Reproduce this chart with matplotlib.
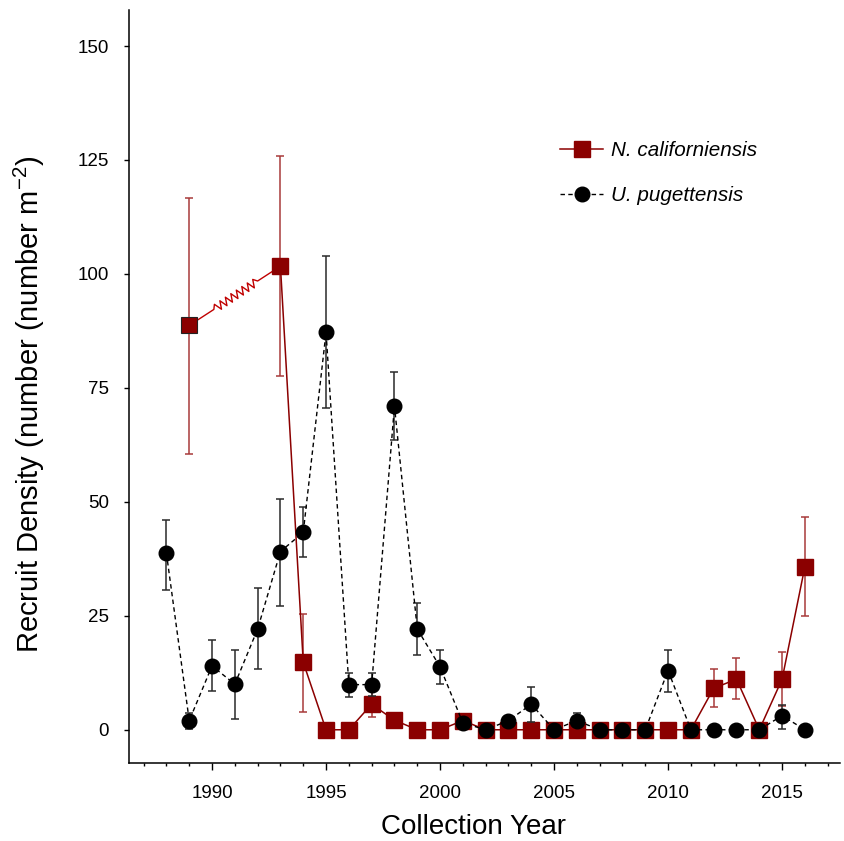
import numpy as np
import matplotlib
matplotlib.use('Agg')
import matplotlib.pyplot as plt
from matplotlib.lines import Line2D
from matplotlib.ticker import MultipleLocator

plt.rcParams['font.family'] = ['Liberation Sans', 'DejaVu Sans']
plt.rcParams['mathtext.fontset'] = 'custom'
plt.rcParams['mathtext.rm'] = 'Liberation Sans'

# U. pugettensis (black circles), every year 1988-2016
years_u = list(range(1988, 2017))
u_mean = [38.7, 2.0, 14.0, 10.0, 22.1, 39.1, 43.3, 87.2, 9.9, 9.9,
          71.0, 22.1, 13.8, 1.5, 0.0, 2.0, 5.6, 0.0, 2.0, 0.0,
          0.0, 0.0, 13.0, 0.0, 0.0, 0.0, 0.0, 3.1, 0.0]
u_low = [30.7, 0.2, 8.6, 2.3, 13.3, 27.2, 37.9, 70.5, 7.2, 7.3,
         63.6, 16.4, 10.0, 1.0, 0.0, 1.0, 1.8, 0.0, 0.8, 0.0,
         0.0, 0.0, 8.2, 0.0, 0.0, 0.0, 0.0, 0.1, 0.0]
u_high = [46.1, 3.7, 19.7, 17.6, 31.0, 50.7, 48.8, 103.9, 12.4, 12.5,
          78.4, 27.7, 17.4, 2.5, 0.0, 3.0, 9.3, 0.0, 3.6, 0.0,
          0.0, 0.0, 17.6, 0.0, 0.0, 0.0, 0.0, 5.4, 0.0]

# N. californiensis (red squares), 1989 then 1993-2016
years_n = [1989] + list(range(1993, 2017))
n_mean = [88.7, 101.7, 14.8, 0.0, 0.0, 5.6, 2.1, 0.0, 0.0, 2.0,
          0.0, 0.0, 0.0, 0.0, 0.0, 0.0, 0.0, 0.0, 0.0, 0.0,
          9.1, 11.1, 0.0, 11.1, 35.8]
n_low = [60.6, 77.5, 3.8, 0.0, 0.0, 2.7, 1.2, 0.0, 0.0, 1.5,
         0.0, 0.0, 0.0, 0.0, 0.0, 0.0, 0.0, 0.0, 0.0, 0.0,
         5.1, 6.7, 0.0, 5.3, 24.9]
n_high = [116.6, 125.8, 25.3, 0.0, 0.0, 8.6, 3.0, 0.0, 0.0, 2.5,
          0.0, 0.0, 0.0, 0.0, 0.0, 0.0, 0.0, 0.0, 0.0, 0.0,
          13.3, 15.7, 0.0, 17.0, 46.6]

RED = '#8b0000'
RED_ERR = '#a83a3a'

fig = plt.figure(figsize=(8.45, 8.41), dpi=100)
ax = fig.add_axes([0.1527, 0.0927, 0.8414, 0.8954])
ax.set_xlim(1986.36, 2017.54)
ax.set_ylim(-7.3, 157.9)

un = np.array(u_mean)
nn = np.array(n_mean)
u_err = [un - np.array(u_low), np.array(u_high) - un]
n_err = [nn - np.array(n_low), np.array(n_high) - nn]

# red series: error bars, line from 1993 on, 1989 point joined with a break mark
ax.errorbar(years_n, n_mean, yerr=n_err, fmt='none', ecolor=RED_ERR,
            elinewidth=1.1, capsize=3.2, capthick=1.1, zorder=2)
ax.plot(years_n[1:], n_mean[1:], color=RED, lw=1.1, marker='s', ms=11,
        mec=RED, mfc=RED, zorder=2)
ax.plot(years_n[:1], n_mean[:1], ls='none', marker='s', ms=11,
        mfc=RED, mec='#222222', mew=0.8, zorder=2)

# broken connector 1989 -> 1993 (zigzag in display space)
p0, p1 = ax.transData.transform([[years_n[0], n_mean[0]], [years_n[1], n_mean[1]]])
d = p1 - p0
L = np.hypot(*d)
u = d / L
perp = np.array([-u[1], u[0]])
t_a, t_b, nz = 0.27, 0.75, 16
ts = np.linspace(t_a, t_b, nz + 1)
amp = np.array([0 if (k == 0 or k == nz) else (4 if k % 2 else -4) for k in range(nz + 1)])
zz = np.array([p0 + d * t + perp * a for t, a in zip(ts, amp)])
pts = np.vstack([p0, zz, p1])
pts_data = ax.transData.inverted().transform(pts)
ax.plot(pts_data[:, 0], pts_data[:, 1], color='#c00000', lw=1.0, zorder=1.9)

# black series
ax.errorbar(years_u, u_mean, yerr=u_err, fmt='none', ecolor='#2a2a2a',
            elinewidth=1.1, capsize=3.2, capthick=1.1, zorder=3)
ax.plot(years_u, u_mean, color='black', lw=1.0, ls=(0, (3.2, 2.4)),
        marker='o', ms=10.5, mfc='black', mec='black', zorder=3)

for s in ['top', 'right']:
    ax.spines[s].set_visible(False)
for s in ['left', 'bottom']:
    ax.spines[s].set_linewidth(1.1)

ax.xaxis.set_major_locator(MultipleLocator(5))
ax.xaxis.set_minor_locator(MultipleLocator(1))
ax.set_xticks([1990, 1995, 2000, 2005, 2010, 2015])
ax.set_yticks([0, 25, 50, 75, 100, 125, 150])
ax.tick_params(axis='x', which='major', length=5, width=1.0, labelsize=13.5, pad=11)
ax.tick_params(axis='x', which='minor', length=2.5, width=1.0)
ax.tick_params(axis='y', which='major', length=3.5, width=1.0, labelsize=13.5, pad=11)

ax.set_xlabel('Collection Year', fontsize=20)
ax.xaxis.set_label_coords(0.4845, -0.068)
ax.set_ylabel('Recruit Density (number (number m$^{\\mathregular{-2}}$)', fontsize=21)
ax.yaxis.set_label_coords(-0.115, 0.476)

handles = [
    Line2D([], [], color=RED, lw=1.1, marker='s', ms=11, mfc=RED, mec=RED),
    Line2D([], [], color='black', lw=1.0, ls=(0, (3.2, 2.4)), marker='o', ms=10.5),
]
ax.legend(handles, ['N. californiensis', 'U. pugettensis'], loc='upper left',
          bbox_to_anchor=(0.606, 0.826), frameon=False, borderpad=0, borderaxespad=0,
          handlelength=2.1, handletextpad=0.35, labelspacing=1.25,
          prop={'size': 14.9, 'style': 'italic'})

fig.savefig('out.png', dpi=100)
